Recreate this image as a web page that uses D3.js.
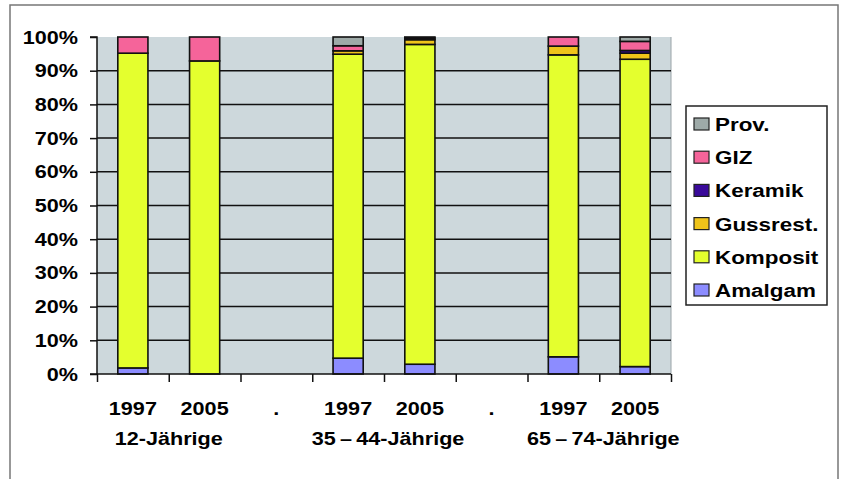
<!DOCTYPE html>
<html>
<head>
<meta charset="utf-8">
<script src="https://cdn.jsdelivr.net/npm/d3@7"></script>
<style>
  body { margin: 0; background: #fff; }
  text { font-family: "Liberation Sans", Arial, sans-serif; font-weight: bold; fill: #000; }
</style>
</head>
<body>
<script>
// slots along the x axis (two bars per age group, an empty "." slot between groups)
var slots = ["a1997", "a2005", "gap1", "b1997", "b2005", "gap2", "c1997", "c2005"];
var tickLabels = ["1997", "2005", ".", "1997", "2005", ".", "1997", "2005"];
var groupLabels = ["12-Jährige", "35\u2009\u2013\u200944-Jährige", "65\u2009\u2013\u200974-Jährige"];
var yTicks = [0, 10, 20, 30, 40, 50, 60, 70, 80, 90, 100];

// series values in percent, stacked bottom to top
var amalgam  = [1.8, 0, 0, 4.7, 2.9, 0, 5.1, 2.2];
var komposit = [93.4, 92.9, 0, 90.2, 94.9, 0, 89.6, 91.2];
var gussrest = [0, 0, 0, 1.0, 1.4, 0, 2.6, 1.8];
var keramik  = [0, 0, 0, 0, 0.5, 0, 0, 0.8];
var giz      = [4.8, 7.1, 0, 1.5, 0.3, 0, 2.7, 2.7];
var prov     = [0, 0, 0, 2.6, 0, 0, 0, 1.3];

var seriesNames = ["Amalgam", "Komposit", "Gussrest.", "Keramik", "GIZ", "Prov."];
var seriesValues = [amalgam, komposit, gussrest, keramik, giz, prov];
var colors = ["#8c8cff", "#e4ff2e", "#efc41a", "#3a0a9a", "#f5649a", "#9eaaa8"];

var W = 843, H = 479;
var plot = {left: 97, right: 671, top: 37, bottom: 374};
var sx = 1.2; // picture is stretched sideways, text too

// table for d3.stack
var table = slots.map(function (s, i) {
  var row = {slot: s};
  seriesNames.forEach(function (n, j) { row[n] = seriesValues[j][i]; });
  return row;
});
var stacked = d3.stack().keys(seriesNames)(table);

var svg = d3.select('body').append('svg')
    .attr('width', W)
    .attr('height', H);

// outer frame (open at the bottom)
svg.append('path')
    .attr('d', 'M10,' + H + 'V5H838V' + H)
    .attr('fill', 'none')
    .attr('stroke', '#777')
    .attr('stroke-width', 1.5);

var x = d3.scaleBand().domain(slots).range([plot.left, plot.right]).padding(0);
var xEdge = d3.scaleLinear().domain([0, slots.length]).range([plot.left, plot.right]);
var y = d3.scaleLinear().domain([0, 100]).range([plot.bottom, plot.top]);
var barW = x.bandwidth() * 0.42;

// plot background
svg.append('rect')
    .attr('x', plot.left)
    .attr('y', plot.top)
    .attr('width', plot.right - plot.left)
    .attr('height', plot.bottom - plot.top)
    .attr('fill', '#cdd8dc');
svg.append('line')
    .attr('x1', plot.right).attr('x2', plot.right)
    .attr('y1', plot.top).attr('y2', plot.bottom)
    .attr('stroke', '#9aa4a8')
    .attr('stroke-width', 1);

// gridlines
svg.selectAll('.grid')
    .data(yTicks.slice(1, -1))
    .enter()
  .append('line')
    .attr('class', 'grid')
    .attr('x1', plot.left).attr('x2', plot.right)
    .attr('y1', function (d) { return y(d) }).attr('y2', function (d) { return y(d) })
    .attr('stroke', '#111')
    .attr('stroke-width', 1.5);

// stacked bars
svg.selectAll('.layer')
    .data(stacked)
    .enter()
  .append('g')
    .attr('class', 'layer')
    .attr('fill', function (d, i) { return colors[i] })
  .selectAll('rect')
    .data(function (d) { return d.filter(function (p) { return p[1] - p[0] > 0 }) })
    .enter()
  .append('rect')
    .attr('x', function (d) { return x(d.data.slot) + (x.bandwidth() - barW) / 2 })
    .attr('y', function (d) { return y(d[1]) })
    .attr('width', barW)
    .attr('height', function (d) { return y(d[0]) - y(d[1]) })
    .attr('stroke', '#111')
    .attr('stroke-width', 1.6);

// y axis
var yAxis = d3.axisLeft(y).tickValues(yTicks).tickSize(7).tickFormat(function (d) { return d + '%' });
var yG = svg.append('g')
    .attr('transform', 'translate(' + plot.left + ',0)')
    .call(yAxis);
yG.select('.domain').attr('stroke', '#111').attr('stroke-width', 1.5).attr('d', 'M-7,' + plot.top + 'H0V' + plot.bottom + 'H-7');
yG.selectAll('.tick line').attr('stroke', '#111').attr('stroke-width', 1.5);
yG.selectAll('.tick text')
    .attr('x', 0)
    .attr('dy', null)
    .attr('y', 6)
    .style('font-size', '18px')
    .attr('transform', 'translate(-19,0) scale(' + sx + ',1)');

// x axis (ticks at slot edges)
var xAxis = d3.axisBottom(xEdge).tickValues(d3.range(slots.length + 1)).tickSize(8).tickFormat('');
var xG = svg.append('g')
    .attr('transform', 'translate(0,' + plot.bottom + ')')
    .call(xAxis);
xG.select('.domain').attr('stroke', '#111').attr('stroke-width', 1.5).attr('d', 'M' + plot.left + ',0H' + plot.right);
xG.selectAll('.tick line').attr('stroke', '#111').attr('stroke-width', 1.5);

// year labels
svg.selectAll('.yearLabel')
    .data(tickLabels)
    .enter()
  .append('text')
    .attr('class', 'yearLabel')
    .attr('text-anchor', 'middle')
    .style('font-size', '18px')
    .attr('transform', function (d, i) {
      return 'translate(' + (x(slots[i]) + x.bandwidth() / 2) + ',415) scale(' + sx + ',1)'
    })
    .text(function (d) { return d });

// group labels, centered between each pair of bars
svg.selectAll('.groupLabel')
    .data(groupLabels)
    .enter()
  .append('text')
    .attr('class', 'groupLabel')
    .attr('text-anchor', 'middle')
    .style('font-size', '18px')
    .attr('transform', function (d, i) {
      return 'translate(' + (xEdge(i * 3 + 1) + (i > 0 ? 4 : 0)) + ',445) scale(' + sx + ',1)'
    })
    .text(function (d) { return d });

// legend, top item is the top of the stack
var legend = svg.append('g').attr('transform', 'translate(686,106)');
legend.append('rect')
    .attr('width', 141)
    .attr('height', 199)
    .attr('fill', '#fff')
    .attr('stroke', '#222')
    .attr('stroke-width', 1.5);
var items = legend.selectAll('.item')
    .data(seriesNames.slice().reverse())
    .enter()
  .append('g')
    .attr('class', 'item')
    .attr('transform', function (d, i) { return 'translate(0,' + (18 + i * 33.2) + ')' });
items.append('rect')
    .attr('x', 8)
    .attr('y', -6)
    .attr('width', 15)
    .attr('height', 12)
    .attr('fill', function (d) { return colors[seriesNames.indexOf(d)] })
    .attr('stroke', '#222')
    .attr('stroke-width', 1.2);
items.append('text')
    .style('font-size', '19px')
    .attr('transform', 'translate(29,7) scale(1.18,1)')
    .text(function (d) { return d });
</script>
</body>
</html>
